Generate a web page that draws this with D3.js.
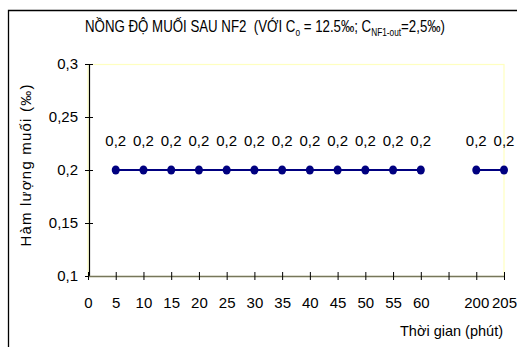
<!DOCTYPE html>
<html>
<head>
<meta charset="utf-8">
<script src="https://cdn.jsdelivr.net/npm/d3@7"></script>
<style>
  html, body { margin: 0; padding: 0; background: #fff; }
  svg { display: block; font-family: "Liberation Sans", Arial, sans-serif; }
</style>
</head>
<body>
<svg id="chart" width="517" height="347"></svg>
<script>
// Time categories (minutes); an empty slot separates 60 and 200
const categories = ["0", "5", "10", "15", "20", "25", "30", "35", "40", "45", "50", "55", "60", "", "200", "205"];
// Salt concentration after NF2 (‰); null = no measurement
const saltValues = [null, 0.2, 0.2, 0.2, 0.2, 0.2, 0.2, 0.2, 0.2, 0.2, 0.2, 0.2, 0.2, null, 0.2, 0.2];
const yTicks = [0.1, 0.15, 0.2, 0.25, 0.3];

const svg = d3.select("#chart");
const fmt = v => String(v).replace(".", ",");

const plot = { left: 88, right: 504, top: 64, bottom: 276 };

// category keys must be unique for the point scale
const keys = categories.map((c, i) => i);
const x = d3.scalePoint().domain(keys).range([plot.left, plot.right]);
const y = d3.scaleLinear().domain([0.1, 0.3]).range([plot.bottom, plot.top]);

// outer chart frame (runs past the right and bottom edges)
svg.append("path")
  .attr("d", "M8.5,347 L8.5,10.5 L517,10.5")
  .attr("fill", "none").attr("stroke", "#000").attr("stroke-width", 1.3);

// plot area frame
svg.append("rect")
  .attr("x", plot.left).attr("y", plot.top + 0.5)
  .attr("width", plot.right - plot.left).attr("height", plot.bottom - plot.top)
  .attr("fill", "none").attr("stroke", "#ffffc0").attr("stroke-width", 1.2);

// title (condensed)
const title = svg.append("text")
  .attr("x", 265).attr("y", 32)
  .attr("text-anchor", "middle")
  .attr("font-size", 16)
  .attr("fill", "#000")
  .attr("transform", "translate(265,0) scale(0.83,1) translate(-265,0)");
title.append("tspan").text("NỒNG ĐỘ MUỐI SAU NF2\u00a0\u00a0(VỚI C");
title.append("tspan").attr("font-size", 10).attr("dy", 4).text("o");
title.append("tspan").attr("dy", -4).text(" = 12.5‰; C");
title.append("tspan").attr("font-size", 10).attr("dy", 4).text("NF1-out");
title.append("tspan").attr("dy", -4).text("=2,5‰)");

// y axis
const yAxis = d3.axisLeft(y).tickValues(yTicks).tickFormat(fmt).tickSize(0).tickPadding(11);
const gy = svg.append("g").attr("transform", `translate(${plot.left + 1},0)`).call(yAxis);
gy.select(".domain").attr("stroke", "#000").attr("stroke-width", 1.2);
gy.selectAll(".tick line").attr("x1", -4).attr("x2", 4).attr("stroke", "#000");
gy.selectAll(".tick text").attr("font-size", 15).attr("fill", "#000")
  .attr("font-family", "Liberation Sans, Arial, sans-serif");

// x axis
const xAxis = d3.axisBottom(x).tickFormat(i => categories[i]).tickSize(0);
const gx = svg.append("g").attr("transform", `translate(0,${plot.bottom})`).call(xAxis);
gx.select(".domain").attr("stroke", "#76765a").attr("stroke-width", 1.5);
gx.selectAll(".tick line").attr("y1", -4).attr("y2", 4).attr("stroke", "#000");
gx.selectAll(".tick text").attr("font-size", 15).attr("fill", "#000")
  .attr("y", 32).attr("dy", 0)
  .attr("font-family", "Liberation Sans, Arial, sans-serif");

// axis titles
svg.append("text")
  .attr("transform", "translate(31,165) rotate(-90)")
  .attr("text-anchor", "middle")
  .attr("font-size", 15).attr("fill", "#000")
  .attr("letter-spacing", 1.2)
  .text("Hàm lượng muối (‰)");
svg.append("text")
  .attr("x", 503).attr("y", 336)
  .attr("text-anchor", "end")
  .attr("font-size", 14.5).attr("fill", "#000")
  .text("Thời gian (phút)");

// series line with a gap where there is no value
const pts = keys.map(i => ({ i, v: saltValues[i] }));
const line = d3.line().defined(d => d.v !== null).x(d => x(d.i)).y(d => y(d.v));
svg.append("path")
  .datum(pts)
  .attr("d", line)
  .attr("fill", "none").attr("stroke", "#000080").attr("stroke-width", 2);

const valid = pts.filter(d => d.v !== null);
svg.selectAll("ellipse.pt").data(valid).join("ellipse")
  .attr("class", "pt")
  .attr("cx", d => x(d.i)).attr("cy", d => y(d.v))
  .attr("rx", 4).attr("ry", 4.5)
  .attr("fill", "#000080");

// value labels
svg.selectAll("text.lbl").data(valid).join("text")
  .attr("class", "lbl")
  .attr("x", d => x(d.i)).attr("y", d => y(d.v) - 24)
  .attr("text-anchor", "middle")
  .attr("font-size", 15).attr("fill", "#000")
  .text(d => fmt(d.v));
</script>
</body>
</html>
